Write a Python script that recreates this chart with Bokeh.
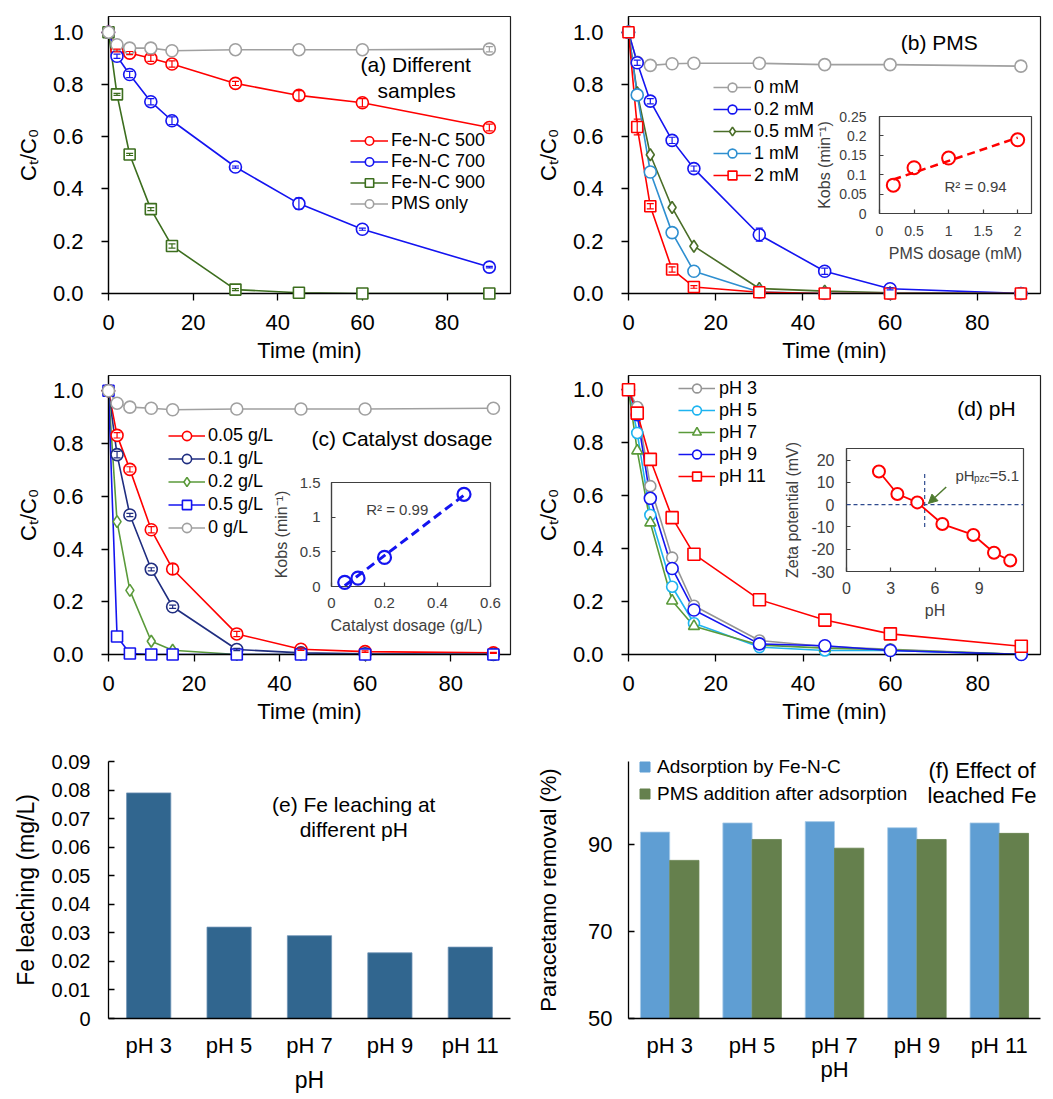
import numpy as np
from bokeh.plotting import figure
from bokeh.models import (Range1d, FactorRange, Legend, LegendItem, Label, Whisker, TeeHead,
                          ColumnDataSource, FixedTicker, GridBox, Arrow, NormalHead, Span,
                          NumeralTickFormatter, CustomJSTickFormatter)
from bokeh.transform import dodge
from bokeh.embed import file_html
from bokeh.resources import INLINE

FONT = "Liberation Sans"

# ---------------- DATA ----------------
time_min = [0, 2, 5, 10, 15, 30, 45, 60, 90]
time_ticks = [0, 20, 40, 60, 80]
ct_ticks = [0.0, 0.2, 0.4, 0.6, 0.8, 1.0]

# (a) different samples
a_fenc500 = [1.0, 0.93, 0.92, 0.90, 0.878, 0.804, 0.758, 0.730, 0.635]
a_fenc500_err = [0, 0.005, 0.006, 0.012, 0.012, 0.008, 0.018, 0.016, 0.013]
a_fenc700 = [1.0, 0.908, 0.838, 0.734, 0.661, 0.484, 0.344, 0.246, 0.101]
a_fenc700_err = [0, 0.008, 0.012, 0.012, 0.015, 0.004, 0.022, 0.004, 0.003]
a_fenc900 = [1.0, 0.762, 0.532, 0.323, 0.182, 0.015, 0.003, 0.0, 0.0]
a_fenc900_err = [0, 0.004, 0.004, 0.006, 0.008, 0.004, 0, 0, 0]
a_pms_only = [1.0, 0.952, 0.939, 0.939, 0.929, 0.933, 0.933, 0.933, 0.935]
a_pms_only_err = [0, 0, 0, 0, 0, 0, 0, 0, 0.01]

# (b) PMS dosage
b_0mM = [1.0, 0.885, 0.873, 0.879, 0.881, 0.881, 0.876, 0.876, 0.870]
b_02mM = [1.0, 0.883, 0.736, 0.586, 0.478, 0.225, 0.085, 0.018, 0.0]
b_02mM_err = [0, 0.01, 0.01, 0.012, 0.01, 0.025, 0.012, 0.004, 0]
b_05mM = [1.0, 0.768, 0.531, 0.329, 0.181, 0.019, 0.009, 0.003, 0.0]
b_1mM = [1.0, 0.76, 0.465, 0.233, 0.085, 0.006, 0.0, 0.0, 0.0]
b_2mM = [1.0, 0.637, 0.334, 0.092, 0.025, 0.005, 0.0, 0.0, 0.0]
b_2mM_err = [0, 0.03, 0.01, 0.01, 0.005, 0, 0, 0, 0]
pms_dose = [0.2, 0.5, 1.0, 2.0]
pms_kobs = [0.073, 0.118, 0.143, 0.190]

# (c) catalyst dosage
c_005 = [1.0, 0.831, 0.702, 0.473, 0.324, 0.078, 0.02, 0.011, 0.006]
c_005_err = [0, 0.01, 0.01, 0.012, 0.02, 0.01, 0.004, 0.003, 0.002]
c_01 = [1.0, 0.758, 0.529, 0.323, 0.181, 0.019, 0.006, 0.003, 0.0]
c_01_err = [0, 0.012, 0.006, 0.006, 0.006, 0.004, 0, 0, 0]
c_02 = [1.0, 0.504, 0.243, 0.05, 0.016, 0.0, 0.0, 0.0, 0.0]
c_05 = [1.0, 0.068, 0.004, 0.0, 0.0, 0.0, 0.0, 0.0, 0.0]
c_0 = [1.0, 0.953, 0.938, 0.934, 0.928, 0.931, 0.931, 0.931, 0.934]
cat_dose = [0.05, 0.1, 0.2, 0.5]
cat_kobs = [0.06, 0.12, 0.42, 1.33]

# (d) pH
d_ph3 = [1.0, 0.935, 0.636, 0.366, 0.184, 0.053, 0.03, 0.02, 0.0]
d_ph5 = [1.0, 0.837, 0.527, 0.256, 0.118, 0.028, 0.015, 0.015, 0.0]
d_ph7 = [1.0, 0.77, 0.498, 0.203, 0.107, 0.036, 0.024, 0.018, 0.0]
d_ph9 = [1.0, 0.906, 0.59, 0.325, 0.168, 0.04, 0.033, 0.015, 0.0]
d_ph11 = [1.0, 0.912, 0.737, 0.517, 0.379, 0.207, 0.13, 0.078, 0.031]
zeta_ph = [2.2, 3.45, 4.8, 6.5, 8.6, 10.0, 11.1]
zeta_mv = [14.9, 4.8, 1.0, -8.7, -13.6, -21.6, -25.1]
pzc_line_x = 5.3
pzc_line_y = [-10, 15]
pzc_arrow = dict(x_start=6.76, y_start=7.9, x_end=5.55, y_end=0.5)

# (e), (f)
ph_labels = ["pH 3", "pH 5", "pH 7", "pH 9", "pH 11"]
fe_leaching = [0.079, 0.032, 0.029, 0.023, 0.025]
fe_ticks = [0, 0.01, 0.02, 0.03, 0.04, 0.05, 0.06, 0.07, 0.08, 0.09]
adsorption = [92.8, 94.9, 95.2, 93.8, 94.9]
pms_after_ads = [86.3, 91.1, 89.1, 91.1, 92.5]
removal_ticks = [50, 70, 90]

# ------------- LAYOUT (page boxes and plot frames, px) -------------
BOX = {
    "a": (8, 8, 525, 368), "b": (525, 8, 1045, 368),
    "c": (8, 368, 525, 735), "d": (525, 368, 1045, 735),
    "e": (8, 735, 525, 1095), "f": (525, 735, 1045, 1095),
    "bi": (800, 104, 1040, 270), "ci": (262, 470, 505, 642), "di": (778, 436, 1035, 628),
    "fl": (632, 748, 940, 812),
}
FRAME = {
    "a": (107, 15, 512, 294), "b": (628, 16, 1040, 293),
    "c": (106, 375, 510, 659), "d": (628, 374, 1040, 654),
    "e": (108, 761, 516, 1019), "f": (627, 757, 1041, 1019),
    "bi": (879, 116, 1031, 213), "ci": (331, 482, 490, 586), "di": (846, 448, 1023, 571),
    "fl": (632, 748, 940, 812),
}


def make_fig(key, x_range, y_range, **kw):
    x0, y0, x1, y1 = BOX[key]
    fx0, fy0, fx1, fy1 = FRAME[key]
    p = figure(width=x1 - x0, height=y1 - y0, x_range=x_range, y_range=y_range,
               output_backend="svg", toolbar_location=None,
               min_border_left=fx0 - x0, min_border_right=x1 - fx1,
               min_border_top=fy0 - y0, min_border_bottom=y1 - fy1, **kw)
    p.grid.visible = False
    p.background_fill_color = "white"
    return p


def style_axes(p, tick_px, lab_px, color, tick_in, tick_out, xstand, ystand, xls, yls, lw=1.3):
    for ax in (p.xaxis[0], p.yaxis[0]):
        ax.axis_line_color = color
        ax.axis_line_width = lw
        ax.major_tick_line_color = color
        ax.major_tick_line_width = lw
        ax.major_tick_in = tick_in
        ax.major_tick_out = tick_out
        ax.minor_tick_line_color = None
        ax.major_label_text_font = FONT
        ax.major_label_text_font_size = tick_px
        ax.major_label_text_color = color
        ax.axis_label_text_font = FONT
        ax.axis_label_text_font_size = lab_px
        ax.axis_label_text_font_style = "normal"
        ax.axis_label_text_color = color
    p.xaxis.major_label_standoff = xstand
    p.yaxis.major_label_standoff = ystand
    p.xaxis.axis_label_standoff = xls
    p.yaxis.axis_label_standoff = yls


def main_panel(key, xmax, ymax):
    p = make_fig(key, Range1d(0, xmax), Range1d(0, ymax))
    p.outline_line_color = "#202020"
    p.outline_line_width = 1.2
    style_axes(p, "22px", "22px", "#000000", 0, 7, 14, 18, 5, 9)
    p.xaxis.ticker = FixedTicker(ticks=time_ticks)
    p.yaxis.ticker = FixedTicker(ticks=ct_ticks)
    p.yaxis.formatter = NumeralTickFormatter(format="0.0")
    p.xaxis.axis_label = "Time (min)"
    p.yaxis.axis_label = "Cₜ/C₀"
    return p


def add_series(p, x, y, color, marker, size, err=None, lw=1.6):
    r_line = p.line(x, y, line_color=color, line_width=lw)
    r_pts = p.scatter(x, y, marker=marker, size=size, line_color=color,
                      fill_color="white", line_width=lw, level="overlay")
    if err is not None:
        keep = [i for i, e in enumerate(err) if e > 0]
        src = ColumnDataSource(dict(base=[x[i] for i in keep],
                                    upper=[y[i] + err[i] for i in keep],
                                    lower=[y[i] - err[i] for i in keep]))
        w = Whisker(source=src, base="base", upper="upper", lower="lower",
                    line_color=color, line_width=1.2, level="overlay",
                    upper_head=TeeHead(size=7, line_color=color, line_width=1.2),
                    lower_head=TeeHead(size=7, line_color=color, line_width=1.2))
        p.add_layout(w)
    return [r_line, r_pts]


def add_legend(p, entries, loc, row_h, glyph_w, standoff, font_px):
    leg = Legend(items=[LegendItem(label=l, renderers=r) for l, r in entries],
                 location=loc, orientation="vertical", border_line_color=None,
                 background_fill_alpha=0, padding=0, margin=0, spacing=0,
                 glyph_width=glyph_w, glyph_height=row_h, label_height=row_h,
                 label_standoff=standoff, label_text_font=FONT,
                 label_text_font_size=font_px, label_text_color="#000000")
    p.add_layout(leg)


def add_text(p, x, y, text, size, align="center", color="#000000", **kw):
    p.add_layout(Label(x=x, y=y, text=text, text_font=FONT, text_font_size=size,
                       text_align=align, text_baseline="middle", text_color=color, **kw))


RED = "#FF0000"
BLUE = "#1414F0"
GREY = "#A0A0A0"

# ---------------- (a) ----------------
pa = main_panel("a", 95, 1.06)
ra1 = add_series(pa, time_min, a_fenc500, RED, "circle", 12, a_fenc500_err)
ra2 = add_series(pa, time_min, a_fenc700, BLUE, "circle", 12, a_fenc700_err)
ra3 = add_series(pa, time_min, a_fenc900, "#3C6E1E", "square", 11, a_fenc900_err)
ra4 = add_series(pa, time_min, a_pms_only, GREY, "circle", 12, a_pms_only_err)
add_legend(pa, [("Fe-N-C 500", ra1), ("Fe-N-C 700", ra2), ("Fe-N-C 900", ra3), ("PMS only", ra4)],
           (242, 79), 21, 38, 3, "18px")
add_text(pa, 72.6, 0.877, "(a) Different", "21px")
add_text(pa, 72.8, 0.778, "samples", "21px")

# ---------------- (b) ----------------
pb = main_panel("b", 94.5, 1.06)
rb0 = add_series(pb, time_min, b_0mM, GREY, "circle", 12)
rb1 = add_series(pb, time_min, b_02mM, BLUE, "circle", 12, b_02mM_err)
rb2 = add_series(pb, time_min, b_05mM, "#4A6E28", "diamond", 12)
rb3 = add_series(pb, time_min, b_1mM, "#2E8FD0", "circle", 12)
rb4 = add_series(pb, time_min, b_2mM, RED, "square", 11, b_2mM_err)
add_legend(pb, [("0 mM", rb0), ("0.2 mM", rb1), ("0.5 mM", rb2), ("1 mM", rb3), ("2 mM", rb4)],
           (85, 107), 22, 38, 3, "18px")
add_text(pb, 71.3, 0.962, "(b) PMS", "21px")

# ---------------- (c) ----------------
pc = main_panel("c", 94, 1.058)
rc1 = add_series(pc, time_min, c_005, RED, "circle", 12, c_005_err)
rc2 = add_series(pc, time_min, c_01, "#1F2D80", "circle", 12, c_01_err)
rc3 = add_series(pc, time_min, c_02, "#5A9A3A", "diamond", 12)
rc4 = add_series(pc, time_min, c_05, BLUE, "square", 11)
rc5 = add_series(pc, time_min, c_0, GREY, "circle", 12)
add_legend(pc, [("0.05 g/L", rc1), ("0.1 g/L", rc2), ("0.2 g/L", rc3), ("0.5 g/L", rc4), ("0 g/L", rc5)],
           (60, 115), 23, 37, 3, "18px")
add_text(pc, 68.6, 0.82, "(c) Catalyst dosage", "21px")

# ---------------- (d) ----------------
pd_ = main_panel("d", 94.4, 1.054)
rd1 = add_series(pd_, time_min, d_ph3, "#959595", "circle", 11)
rd2 = add_series(pd_, time_min, d_ph5, "#1EB4F0", "circle", 11)
rd3 = add_series(pd_, time_min, d_ph7, "#5A9A3A", "triangle", 11)
rd4 = add_series(pd_, time_min, d_ph9, BLUE, "circle", 12)
rd5 = add_series(pd_, time_min, d_ph11, RED, "square", 12)
add_legend(pd_, [("pH 3", rd1), ("pH 5", rd2), ("pH 7", rd3), ("pH 9", rd4), ("pH 11", rd5)],
           (50, 167), 22, 37, 4, "18px")
add_text(pd_, 82.0, 0.931, "(d) pH", "21px")


# ---------------- insets ----------------
def inset(key, xr, yr, xticks, yticks, tick_px, lab_px, xstand, ystand, xls, yls):
    p = make_fig(key, Range1d(*xr), Range1d(*yr))
    p.border_fill_color = None
    p.outline_line_color = "#404040"
    p.outline_line_width = 1.2
    style_axes(p, tick_px, lab_px, "#404040", 4, 0, xstand, ystand, xls, yls, lw=1.2)
    p.xaxis.ticker = FixedTicker(ticks=xticks)
    p.yaxis.ticker = FixedTicker(ticks=yticks)
    fmt = "return String(Math.round(tick*1000)/1000);"
    p.xaxis.formatter = CustomJSTickFormatter(code=fmt)
    p.yaxis.formatter = CustomJSTickFormatter(code=fmt)
    return p


pbi = inset("bi", (0, 2.2), (0, 0.25), [0, 0.5, 1, 1.5, 2], [0, 0.05, 0.1, 0.15, 0.2, 0.25],
            "14px", "16px", 12, 13, 6, 3)
pbi.xaxis.axis_label = "PMS dosage (mM)"
pbi.yaxis.axis_label = "Kobs (min⁻¹)"
sb, ib = np.polyfit(pms_dose, pms_kobs, 1)
fx = [min(pms_dose), max(pms_dose)]
pbi.line(fx, [sb * v + ib for v in fx], line_color=RED, line_width=2.5, line_dash="8 5")
pbi.scatter(pms_dose, pms_kobs, marker="circle", size=13, line_color=RED, fill_color=None,
            line_width=2, level="overlay")
add_text(pbi, 1.39, 0.07, "R² = 0.94", "15px", color="#404040")

pci = inset("ci", (0, 0.6), (0, 1.5), [0, 0.2, 0.4, 0.6], [0, 0.5, 1, 1.5],
            "15px", "16px", 11, 11, 6, 7)
pci.xaxis.axis_label = "Catalyst  dosage  (g/L)"
pci.yaxis.axis_label = "Kobs (min⁻¹)"
sc, ic = np.polyfit(cat_dose, cat_kobs, 1)
fx = [min(cat_dose), max(cat_dose)]
pci.line(fx, [sc * v + ic for v in fx], line_color=BLUE, line_width=3, line_dash="9 5")
pci.scatter(cat_dose, cat_kobs, marker="circle", size=13, line_color=BLUE, fill_color=None,
            line_width=2.2, level="overlay")
add_text(pci, 0.248, 1.11, "R² = 0.99", "15px", color="#404040")

pdi = inset("di", (0, 12), (-30, 25.2), [0, 3, 6, 9], [-30, -20, -10, 0, 10, 20],
            "16px", "16px", 10, 12, 5, 7)
pdi.xaxis.axis_label = "pH"
pdi.yaxis.axis_label = "Zeta potential (mV)"
pdi.add_layout(Span(location=0, dimension="width", line_color="#2E4A8E", line_width=1.2,
                    line_dash="4 3"))
pdi.line([pzc_line_x, pzc_line_x], pzc_line_y, line_color="#2E4A8E", line_width=1.2, line_dash="4 3")
pdi.line(zeta_ph, zeta_mv, line_color=RED, line_width=1.8)
pdi.scatter(zeta_ph, zeta_mv, marker="circle", size=12, line_color=RED, fill_color="white",
            line_width=2, level="overlay")
pdi.add_layout(Arrow(**pzc_arrow, line_color="#4E7A2E", line_width=1.5,
                     end=NormalHead(size=9, fill_color="#4E7A2E", line_color="#4E7A2E")))
add_text(pdi, 7.39, 13.2, "pH", "15px", align="left", color="#404040")
add_text(pdi, 7.39, 13.2, "pzc", "10px", align="left", color="#404040", x_offset=18.5, y_offset=-3)
add_text(pdi, 7.39, 13.2, "=5.1", "15px", align="left", color="#404040", x_offset=34)

# ---------------- (e) ----------------
pe = make_fig("e", FactorRange(factors=ph_labels), Range1d(0, 0.09))
pe.outline_line_color = None
style_axes(pe, "20px", "23px", "#000000", 6, 0, 14, 18, 6, 10)
pe.xaxis.major_tick_in = 0
pe.xaxis.major_label_text_font_size = "22px"
pe.yaxis.ticker = FixedTicker(ticks=fe_ticks)
pe.yaxis.formatter = CustomJSTickFormatter(code="return tick == 0 ? '0' : tick.toFixed(2);")
pe.xaxis.axis_label = "pH"
pe.yaxis.axis_label = "Fe leaching (mg/L)"
pe.vbar(x=ph_labels, top=fe_leaching, width=0.55, fill_color="#31668F", line_color="#6E93B5",
        line_width=0.8)
add_text(pe, 3.05, 0.0749, "(e) Fe leaching at", "21px")
add_text(pe, 3.05, 0.0662, "different pH", "21px")

# ---------------- (f) ----------------
pf = make_fig("f", FactorRange(factors=ph_labels), Range1d(50, 109))
pf.outline_line_color = None
style_axes(pf, "22px", "22px", "#000000", 6, 0, 14, 16, -4, 24)
pf.xaxis.major_tick_in = 0
pf.xaxis.major_label_text_font_size = "22px"
pf.yaxis.ticker = FixedTicker(ticks=removal_ticks)
pf.xaxis.axis_label = "pH"
pf.yaxis.axis_label = "Paracetamo removal (%)"
src_f = ColumnDataSource(dict(ph=ph_labels, ads=adsorption, pms=pms_after_ads))
ADS_C = "#5F9ED3"
PMS_C = "#65804D"
pf.vbar(x=dodge("ph", -0.1775, range=pf.x_range), top="ads", bottom=50, width=0.355, source=src_f,
        fill_color=ADS_C, line_color="#A9CBE8", line_width=0.8)
pf.vbar(x=dodge("ph", 0.1775, range=pf.x_range), top="pms", bottom=50, width=0.355, source=src_f,
        fill_color=PMS_C, line_color=PMS_C, line_width=0.8)
add_text(pf, 4.29, 107.0, "(f) Effect of", "22px")
add_text(pf, 4.29, 101.1, "leached Fe", "22px")

# legend of (f), drawn in a transparent overlay so that it is not clipped by the plot frame
pfl = make_fig("fl", Range1d(0, 1), Range1d(0, 1), x_axis_type=None, y_axis_type=None)
pfl.background_fill_color = None
pfl.border_fill_color = None
pfl.outline_line_color = None
lf1 = pfl.scatter(x=[-5], y=[-5], marker="square", size=10, fill_color=ADS_C, line_color=ADS_C)
lf2 = pfl.scatter(x=[-5], y=[-5], marker="square", size=10, fill_color=PMS_C, line_color=PMS_C)
add_legend(pfl, [("Adsorption by Fe-N-C", [lf1]), ("PMS addition after adsorption", [lf2])],
           (0, 5), 27, 25, 0, "19px")

# ---------------- grid assembly ----------------
figs = [("a", pa), ("b", pb), ("c", pc), ("d", pd_), ("e", pe), ("f", pf),
        ("bi", pbi), ("ci", pci), ("di", pdi), ("fl", pfl)]
xs = sorted({0} | {BOX[k][0] for k, _ in figs} | {BOX[k][2] for k, _ in figs})
ys = sorted({0} | {BOX[k][1] for k, _ in figs} | {BOX[k][3] for k, _ in figs})
cols = [f"{xs[i + 1] - xs[i]}px" for i in range(len(xs) - 1)]
rows = [f"{ys[i + 1] - ys[i]}px" for i in range(len(ys) - 1)]
children = []
for k, f in figs:
    x0, y0, x1, y1 = BOX[k]
    c0, c1 = xs.index(x0), xs.index(x1)
    r0, r1 = ys.index(y0), ys.index(y1)
    children.append((f, r0, c0, r1 - r0, c1 - c0))
grid = GridBox(children=children, rows=rows, cols=cols, spacing=0)

open("out.html", "w").write(file_html(grid, INLINE))
